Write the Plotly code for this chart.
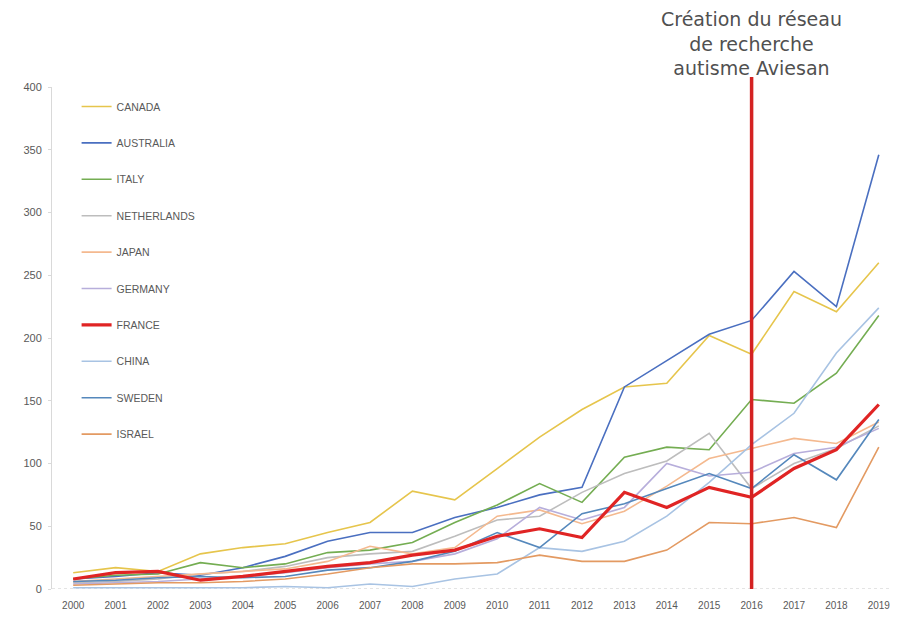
import plotly.graph_objects as go

years = [str(y) for y in range(2000, 2020)]

canada      = [13, 17, 14, 28, 33, 36, 45, 53, 78, 71, 96, 121, 143, 161, 164, 202, 187, 237, 221, 260]
australia   = [8, 10, 13, 11, 17, 26, 38, 45, 45, 57, 65, 75, 81, 161, 182, 203, 214, 253, 225, 346]
italy       = [8, 11, 12, 21, 17, 20, 29, 31, 37, 53, 67, 84, 69, 105, 113, 111, 151, 148, 172, 218]
netherlands = [5, 6, 8, 12, 14, 18, 25, 28, 30, 42, 55, 58, 77, 92, 102, 124, 80, 100, 112, 130]
japan       = [6, 8, 10, 12, 14, 16, 22, 34, 28, 33, 58, 63, 52, 62, 82, 104, 112, 120, 116, 133]
germany     = [4, 5, 6, 8, 10, 13, 17, 20, 22, 28, 40, 65, 55, 65, 100, 90, 93, 108, 113, 128]
france      = [8, 13, 14, 7, 10, 14, 18, 21, 27, 31, 42, 48, 41, 77, 65, 81, 73, 96, 111, 147]
china       = [1, 1, 1, 1, 1, 2, 1, 4, 2, 8, 12, 33, 30, 38, 58, 85, 115, 140, 188, 224]
sweden      = [6, 7, 9, 10, 9, 10, 15, 17, 22, 30, 45, 33, 60, 68, 80, 92, 80, 107, 87, 135]
israel      = [3, 4, 5, 5, 6, 8, 12, 17, 20, 20, 21, 27, 22, 22, 31, 53, 52, 57, 49, 113]

series_names = ["CANADA", "AUSTRALIA", "ITALY", "NETHERLANDS", "JAPAN",
                "GERMANY", "FRANCE", "CHINA", "SWEDEN", "ISRAEL"]
series_values = [canada, australia, italy, netherlands, japan,
                 germany, france, china, sweden, israel]
series_colors = ["#E6C54C", "#4A6FC0", "#74AD52", "#BDBDBD", "#F4B98F",
                 "#B7AEDB", "#E02424", "#A8C3E3", "#5588BC", "#E39A62"]

event_year = "2016"
event_label = "Création du réseau<br>de recherche<br>autisme Aviesan"
event_pos = years.index(event_year)

fig = go.Figure()
order = [i for i in range(len(series_names)) if series_names[i] != "FRANCE"] + \
        [series_names.index("FRANCE")]
for i in order:
    name = series_names[i]
    fig.add_trace(go.Scatter(
        x=years, y=series_values[i], name=name, mode="lines",
        line=dict(color=series_colors[i], width=3.2 if name == "FRANCE" else 1.6),
        legendrank=i + 1, legendgroup=name,
    ))

# dotted baseline
fig.add_shape(type="line", xref="paper", yref="y", x0=0, x1=1, y0=0, y1=0,
              line=dict(color="#C8C8C8", width=1, dash="dot"), layer="below")
# vertical event line
fig.add_shape(type="line", xref="x", yref="paper", x0=event_pos, x1=event_pos,
              y0=0, y1=1.02, line=dict(color="#D42222", width=3.5))

fig.add_annotation(x=event_pos, xref="x", y=1.02, yref="paper", yanchor="bottom",
                   yshift=-4, text=event_label, showarrow=False, align="center",
                   font=dict(family="DejaVu Sans", size=19, color="#505050"))

fig.update_layout(
    width=898, height=624,
    margin=dict(l=44, r=6, t=79, b=43),
    paper_bgcolor="white", plot_bgcolor="white",
    font=dict(family="Liberation Sans", size=9, color="#595959"),
    showlegend=True,
    legend=dict(x=0.029, y=0.99, xanchor="left", yanchor="top",
                bgcolor="rgba(0,0,0,0)", tracegroupgap=17.4,
                font=dict(size=10.5, color="#595959"), itemwidth=30),
    xaxis=dict(type="category", range=[-0.5, 19.5], showgrid=False, showline=False,
               ticks="", ticklabelstandoff=9,
               tickfont=dict(size=10, color="#595959"), zeroline=False,
               automargin=False),
    yaxis=dict(range=[0, 400], dtick=50, showgrid=False, zeroline=False,
               showline=True, linecolor="#D9D9D9", linewidth=1,
               ticks="outside", ticklen=3, tickcolor="#D9D9D9", ticklabelstandoff=4,
               tickfont=dict(size=11, color="#595959"), automargin=False),
)

fig.write_html("out.html")
